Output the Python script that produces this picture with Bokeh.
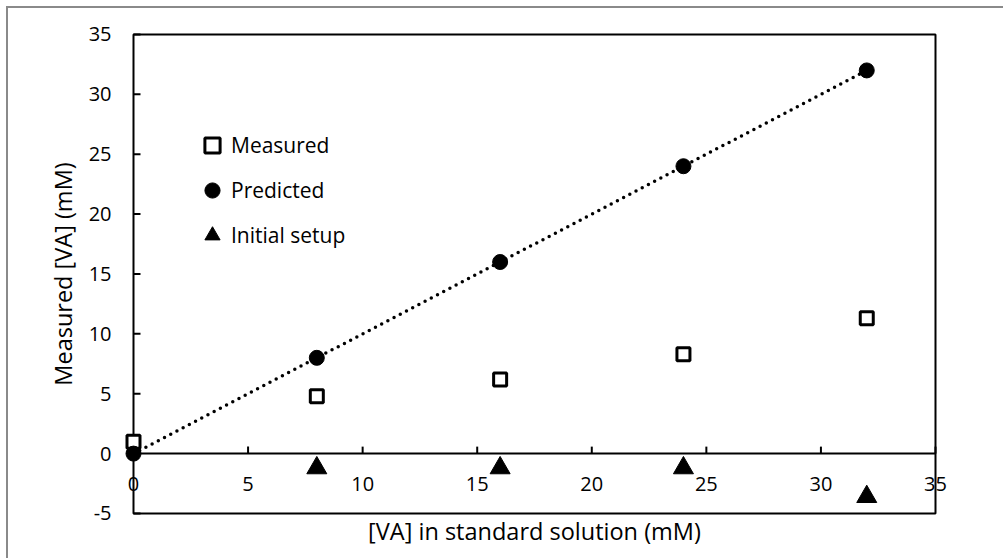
import math
from bokeh.plotting import figure
from bokeh.models import Range1d, Legend, LegendItem
from bokeh.core.properties import value
from bokeh.embed import file_html
from bokeh.resources import INLINE

# ---- data ----
std_conc = [0, 8, 16, 24, 32]
measured = [1.0, 4.8, 6.2, 8.3, 11.3]
predicted = [0, 8, 16, 24, 32]
init_x = [8, 16, 24, 32]
init_y = [-1.2, -1.2, -1.2, -3.6]
x_ticks = [0, 5, 10, 15, 20, 25, 30, 35]
y_ticks = [-5, 0, 5, 10, 15, 20, 25, 30, 35]
x_title = "[VA] in standard solution (mM)"
y_title = "Measured [VA] (mM)"

FONT = "Open Sans"
TICK_FS = "20px"
TITLE_FS = "23.5px"
LEG_FS = "21px"

# the frame fills the whole canvas so that nothing near the plot area is clipped
p = figure(width=997, height=552,
           x_range=Range1d(-5.455, 38.055), y_range=Range1d(-8.925, 37.171),
           output_backend="svg", toolbar_location=None,
           min_border_left=0, min_border_top=0, min_border_right=0,
           min_border_bottom=0)
p.styles = {"margin-left": "6px", "margin-top": "6px",
            "border-left": "2px solid #8a8a8a", "border-top": "2px solid #8a8a8a"}
p.axis.visible = False
p.grid.visible = False
p.outline_line_color = None
p.background_fill_color = "white"
p.border_fill_color = "white"

x0, x1 = x_ticks[0], x_ticks[-1]
y0, y1 = y_ticks[0], y_ticks[-1]

# plot-area border
p.quad(left=[x0], right=[x1], bottom=[y0], top=[y1], fill_color=None,
       line_color="black", line_width=2)
# horizontal axis crossing at y = 0
p.segment(x0=[x0], y0=[0], x1=[x1], y1=[0], line_color="black", line_width=2)
p.ray(x=x_ticks, y=[0] * len(x_ticks), length=7, length_units="screen",
      angle=math.pi / 2, line_color="black", line_width=2)
p.text(x=x_ticks, y=[0] * len(x_ticks), text=[str(t) for t in x_ticks],
       y_offset=30, text_align="center", text_baseline="middle",
       text_font=value(FONT), text_font_size=TICK_FS, text_color="black")
# vertical axis
p.ray(x=[x0] * len(y_ticks), y=y_ticks, length=7, length_units="screen",
      angle=0, line_color="black", line_width=2)
p.text(x=[x0] * len(y_ticks), y=y_ticks, text=[str(t) for t in y_ticks],
       x_offset=-22, text_align="right", text_baseline="middle",
       text_font=value(FONT), text_font_size=TICK_FS, text_color="black")
# axis titles
p.text(x=[(x0 + x1) / 2], y=[y0], text=[x_title], y_offset=18,
       text_align="center", text_baseline="middle",
       text_font=value(FONT), text_font_size=TITLE_FS, text_color="black")
p.text(x=[x0], y=[(y0 + y1) / 2], text=[y_title], x_offset=-70,
       angle=math.pi / 2, text_align="center", text_baseline="middle",
       text_font=value(FONT), text_font_size=TITLE_FS, text_color="black")

# trendline
p.line(std_conc, predicted, line_color="black", line_width=3.5,
       line_dash="0 7", line_cap="round")

r_meas = p.scatter(std_conc, measured, marker="square", size=13,
                   fill_color="white", line_color="black", line_width=3)
r_pred = p.scatter(std_conc, predicted, marker="circle", size=15,
                   fill_color="black", line_color="black")
r_init = p.scatter(init_x, init_y, marker="triangle", size=20,
                   fill_color="black", line_color="black", line_width=1)

legend = Legend(items=[LegendItem(label="Measured", renderers=[r_meas]),
                       LegendItem(label="Predicted", renderers=[r_pred]),
                       LegendItem(label="Initial setup", renderers=[r_init])],
                location=(185, 306), glyph_width=38, glyph_height=38,
                label_height=38, spacing=7, padding=0, margin=0,
                border_line_color=None, background_fill_alpha=0,
                label_standoff=-6, label_text_font=FONT,
                label_text_font_size=LEG_FS, label_text_color="black")
p.add_layout(legend)

open("out.html", "w").write(file_html(p, INLINE))
